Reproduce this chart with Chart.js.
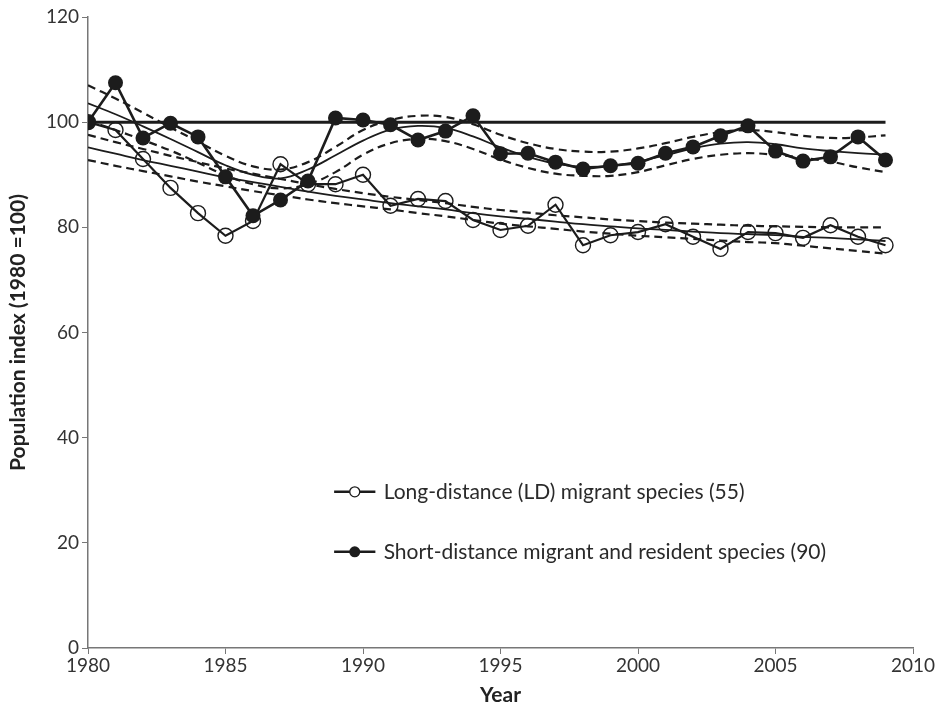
<!DOCTYPE html>
<html lang="en">
<head>
  <meta charset="UTF-8">
  <title>Population index</title>
  <script src="https://cdn.jsdelivr.net/npm/chart.js"></script>
  <style>
    html, body {
      margin: 0;
      padding: 0;
      background: #ffffff;
    }
    .wrap {
      width: 937px;
      height: 712px;
      position: relative;
    }
  </style>
</head>
<body>
<div class="wrap">
  <canvas id="chart" width="937" height="712"></canvas>
</div>

<script>
  const years = [1980, 1981, 1982, 1983, 1984, 1985, 1986, 1987, 1988, 1989,
                 1990, 1991, 1992, 1993, 1994, 1995, 1996, 1997, 1998, 1999,
                 2000, 2001, 2002, 2003, 2004, 2005, 2006, 2007, 2008, 2009];

  // long-distance migrants (open circles)
  const ldIndex = [100, 98.5, 93.0, 87.5, 82.7, 78.4, 81.2, 92.0, 88.2, 88.2,
                   90.0, 84.1, 85.4, 85.0, 81.4, 79.5, 80.3, 84.3, 76.6, 78.5,
                   79.1, 80.6, 78.2, 75.9, 79.1, 78.9, 78.0, 80.4, 78.2, 76.6];
  const ldTrend = [95.2, 94.0, 92.8, 91.7, 90.6, 89.5, 88.6, 87.7, 86.8, 86.0,
                   85.3, 84.6, 84.0, 83.4, 82.7, 82.1, 81.6, 81.1, 80.6, 80.2,
                   79.8, 79.5, 79.2, 78.9, 78.7, 78.5, 78.2, 78.0, 77.7, 77.4];
  const ldUpper = [97.6, 96.2, 94.9, 93.6, 92.4, 91.2, 90.2, 89.2, 88.2, 87.3,
                   86.5, 85.8, 85.2, 84.6, 83.9, 83.3, 82.8, 82.3, 81.9, 81.5,
                   81.2, 80.9, 80.7, 80.5, 80.3, 80.2, 80.1, 80.0, 80.0, 80.0];
  const ldLower = [92.8, 91.7, 90.7, 89.7, 88.7, 87.8, 86.9, 86.1, 85.3, 84.6,
                   84.0, 83.4, 82.7, 82.1, 81.4, 80.7, 80.2, 79.7, 79.2, 78.8,
                   78.4, 78.1, 77.8, 77.5, 77.2, 77.0, 76.5, 76.0, 75.5, 75.0];

  // short-distance migrants and residents (filled circles)
  const sdIndex = [100, 107.5, 97.0, 99.8, 97.2, 89.6, 82.2, 85.2, 88.8, 100.8,
                   100.4, 99.5, 96.6, 98.3, 101.2, 94.0, 94.1, 92.4, 91.1, 91.7,
                   92.2, 94.1, 95.3, 97.4, 99.3, 94.5, 92.6, 93.4, 97.2, 92.8];
  const sdTrend = [103.6, 101.5, 99.2, 96.8, 94.3, 91.8, 90.0, 89.3, 91.0, 93.7,
                   96.5, 98.6, 99.3, 98.9, 97.3, 95.2, 93.4, 92.1, 91.5, 91.7,
                   92.5, 93.7, 95.0, 95.9, 96.2, 95.8, 95.0, 94.5, 94.1, 93.8];
  const sdUpper = [107.0, 104.5, 101.8, 99.0, 96.3, 93.6, 91.6, 91.0, 92.4, 95.3,
                   98.5, 100.4, 101.2, 101.0, 99.6, 97.6, 96.0, 94.9, 94.4, 94.4,
                   95.0, 96.0, 97.2, 98.1, 98.5, 98.1, 97.4, 97.0, 97.1, 97.5];
  const sdLower = [100.3, 98.5, 96.6, 94.6, 92.3, 89.9, 88.2, 87.4, 88.2, 90.5,
                   93.8, 96.0, 96.8, 96.4, 94.9, 92.9, 91.3, 90.2, 89.8, 89.8,
                   90.5, 91.8, 93.0, 93.8, 94.1, 93.8, 93.2, 92.5, 91.4, 90.5];

  const baseline = [[1980, 100], [2009, 100]];

  const xTicks = [1980, 1985, 1990, 1995, 2000, 2005, 2010];
  const yTicks = [0, 20, 40, 60, 80, 100, 120];

  const legendLabels = ["Long-distance (LD) migrant species (55)",
                        "Short-distance migrant and resident species (90)"];

  const ink = '#1c1c1c';
  const fontFamily = 'Lato, "Open Sans", sans-serif';

  function pts(values) {
    return years.map((y, i) => ({ x: y, y: values[i] }));
  }

  function dashed(values) {
    return {
      data: pts(values),
      borderColor: ink,
      borderWidth: 2.2,
      borderDash: [8, 5],
      pointRadius: 0,
      tension: 0.4,
      fill: false
    };
  }

  function smooth(values) {
    return {
      data: pts(values),
      borderColor: ink,
      borderWidth: 1.8,
      pointRadius: 0,
      tension: 0.4,
      fill: false
    };
  }

  const legendPlugin = {
    id: 'insideLegend',
    afterDraw(chart) {
      const ctx = chart.ctx;
      const xs = chart.scales.x;
      const ys = chart.scales.y;
      const x0 = xs.getPixelForValue(1988.95);
      const x1 = xs.getPixelForValue(1990.45);
      const xm = (x0 + x1) / 2;
      const xt = xs.getPixelForValue(1990.75);
      const rows = [ys.getPixelForValue(29.7), ys.getPixelForValue(18.3)];
      ctx.save();
      rows.forEach((yy, i) => {
        ctx.strokeStyle = ink;
        ctx.lineWidth = 2.5;
        ctx.beginPath();
        ctx.moveTo(x0, yy);
        ctx.lineTo(x1, yy);
        ctx.stroke();
        ctx.beginPath();
        ctx.arc(xm, yy, i === 0 ? 5 : 5.5, 0, Math.PI * 2);
        if (i === 0) {
          ctx.fillStyle = '#ffffff';
          ctx.fill();
          ctx.lineWidth = 1.3;
          ctx.stroke();
        } else {
          ctx.fillStyle = ink;
          ctx.fill();
        }
        ctx.fillStyle = '#2a2a2a';
        ctx.font = '21px ' + fontFamily;
        ctx.textBaseline = 'middle';
        ctx.textAlign = 'left';
        ctx.fillText(legendLabels[i], xt, yy);
      });
      ctx.restore();
    }
  };

  const ctx = document.getElementById('chart').getContext('2d');
  new Chart(ctx, {
    type: 'line',
    data: {
      datasets: [
        {
          data: pts(sdIndex),
          borderColor: ink,
          borderWidth: 2.6,
          pointRadius: 7.5,
          pointBackgroundColor: ink,
          pointBorderColor: ink,
          pointBorderWidth: 0,
          tension: 0
        },
        {
          data: pts(ldIndex),
          borderColor: ink,
          borderWidth: 2.2,
          pointRadius: 7.5,
          pointBackgroundColor: 'rgba(255,255,255,0)',
          pointBorderColor: ink,
          pointBorderWidth: 1.4,
          tension: 0
        },
        {
          data: baseline.map(p => ({ x: p[0], y: p[1] })),
          borderColor: ink,
          borderWidth: 3,
          pointRadius: 0
        },
        dashed(sdUpper),
        smooth(sdTrend),
        dashed(sdLower),
        dashed(ldUpper),
        smooth(ldTrend),
        dashed(ldLower)
      ]
    },
    options: {
      responsive: false,
      animation: false,
      layout: { padding: { top: 17, right: 24, left: 0, bottom: 0 } },
      plugins: {
        legend: { display: false },
        tooltip: { enabled: false }
      },
      scales: {
        x: {
          type: 'linear',
          min: 1980,
          max: 2010,
          afterBuildTicks: axis => { axis.ticks = xTicks.map(v => ({ value: v })); },
          afterFit: axis => { axis.height = 64; },
          ticks: {
            color: '#333',
            font: { family: fontFamily, size: 19 },
            padding: 0,
            maxRotation: 0,
            callback: v => String(v)
          },
          grid: {
            drawOnChartArea: false,
            drawTicks: true,
            tickLength: 6,
            color: '#777'
          },
          border: { color: '#777', width: 1.5 },
          title: {
            display: true,
            text: 'Year',
            color: '#222',
            font: { family: fontFamily, size: 21, weight: 'bold' },
            padding: { top: 0, bottom: 4 }
          }
        },
        y: {
          min: 0,
          max: 120,
          afterBuildTicks: axis => { axis.ticks = yTicks.map(v => ({ value: v })); },
          afterFit: axis => { axis.width = 88; },
          ticks: {
            color: '#333',
            font: { family: fontFamily, size: 19 },
            padding: 3
          },
          grid: {
            drawOnChartArea: false,
            drawTicks: true,
            tickLength: 6,
            color: '#777'
          },
          border: { color: '#777', width: 1.5 },
          title: {
            display: true,
            text: 'Population index (1980 =100)',
            color: '#222',
            font: { family: fontFamily, size: 21, weight: 'bold' },
            padding: { top: 6, bottom: 0 }
          }
        }
      }
    },
    plugins: [legendPlugin]
  });
</script>
</body>
</html>
